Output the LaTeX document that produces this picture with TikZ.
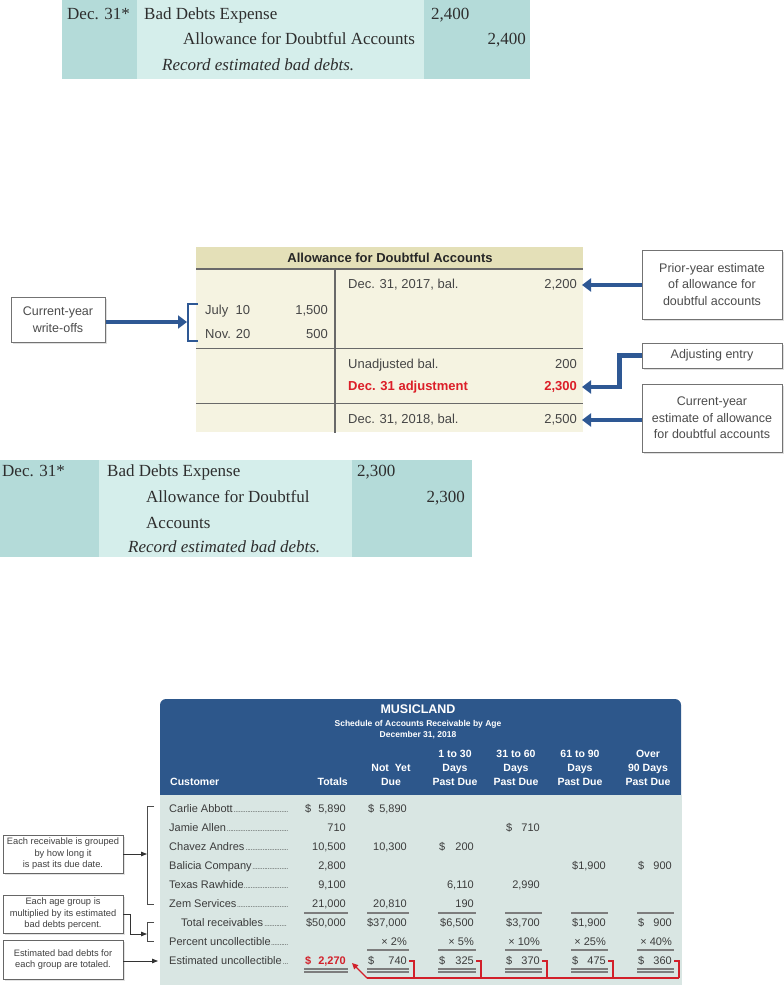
\documentclass[tikz,border=0pt]{standalone}
\usepackage{fontspec}
\setmainfont{Liberation Serif}
\setsansfont{Liberation Sans}
\usetikzlibrary{arrows.meta,shadows}
\definecolor{jdark}{RGB}{180,219,217}
\definecolor{jlight}{RGB}{213,238,235}
\definecolor{theader}{RGB}{228,224,184}
\definecolor{tbody}{RGB}{245,243,225}
\definecolor{tline}{RGB}{105,105,105}
\definecolor{ttext}{RGB}{70,70,70}
\definecolor{tblue}{RGB}{46,88,148}
\definecolor{sblue}{RGB}{45,87,139}
\definecolor{sbody}{RGB}{217,230,227}
\definecolor{sred}{RGB}{210,32,42}
\definecolor{tred}{RGB}{220,30,40}
\definecolor{stext}{RGB}{60,60,60}
\definecolor{sline}{RGB}{125,125,125}
\newcommand\myfs[1]{\fontsize{#1}{#1}\selectfont}
\newcommand\mydots{\leaders\hbox to 1.7pt{\hss{\myfs{7}.}\hss}\hfill}
\begin{document}
\begin{tikzpicture}[x=1pt,y=-1pt,
  jt/.style={anchor=west,inner sep=0pt,font=\myfs{17},text=black!82,text height=11.8pt,text depth=3.6pt},
  jr/.style={jt,anchor=east},
  tt/.style={anchor=west,inner sep=0pt,font=\sffamily\myfs{13},text=ttext,text height=9.5pt,text depth=2.5pt},
  tr/.style={tt,anchor=east},
  note/.style={draw=black!55,line width=1pt,fill=white,align=center,inner sep=2pt,font=\sffamily\fontsize{12.5}{16.5}\selectfont,text=black!70,drop shadow={shadow xshift=2pt,shadow yshift=-2pt,fill=black!25}},
  barrow/.style={line width=4.5pt,draw=tblue,-{Triangle[length=9pt,width=13pt]}},
  bracketb/.style={draw=tblue,line width=1.8pt},
  sn/.style={anchor=east,inner sep=0pt,font=\sffamily\myfs{11},text=stext,text height=8pt,text depth=2pt},
  sd/.style={sn,anchor=west},
  sname/.style={anchor=west,inner sep=0pt,font=\sffamily\myfs{11},text=stext,text height=8pt,text depth=2pt},
  hd/.style={inner sep=0pt,font=\sffamily\bfseries\myfs{10.5},text=white,text height=7.5pt,text depth=2pt},
  uline/.style={draw=sline,line width=1.1pt},
  redl/.style={draw=sred,line width=1.4pt},
  snote/.style={draw=black!60,line width=0.8pt,fill=white,align=center,inner sep=1pt,font=\sffamily\fontsize{9.3}{11.5}\selectfont,text=black!75,drop shadow={shadow xshift=1.5pt,shadow yshift=-1.5pt,fill=black!22}},
  sbr/.style={draw=black!70,line width=0.8pt},
  karrow/.style={draw=black!80,line width=0.8pt,-{Triangle[length=6pt,width=4.5pt]}}
]
\useasboundingbox (0,0) rectangle (784,985);

% ---------- top journal entry ----------
\fill[jdark] (62,0) rectangle (137,79);
\fill[jlight] (137,0) rectangle (424,79);
\fill[jdark] (424,0) rectangle (530,79);
\node[jt] (j1d) at (67,15) {Dec. 31*};
\node[jt] (j1a) at (144,15) {Bad Debts Expense};
\node[jt] (j1n) at (431,15) {2,400};
\node[jt] (j1b) at (183,40) {Allowance for Doubtful Accounts};
\node[jr] (j1m) at (526,40) {2,400};
\node[jt,font=\myfs{17}\itshape] (j1c) at (162,66) {Record estimated bad debts.};

% ---------- T-account ----------
\fill[theader] (196,247) rectangle (583,269);
\fill[tbody] (196,269) rectangle (583,432);
\draw[tline,line width=1.5pt] (196,269) -- (583,269);
\draw[tline,line width=1.2pt] (335,269) -- (335,433);
\draw[tline,line width=1pt] (196,348) -- (583,348);
\draw[tline,line width=1pt] (196,403) -- (583,403);
\node[font=\sffamily\bfseries\myfs{13},text=black!85,inner sep=0pt] (th) at (390,258) {Allowance for Doubtful Accounts};
\node[tt] (t1) at (348,285) {Dec. 31, 2017, bal.};
\node[tr] (v2200) at (577,285) {2,200};
\node[tt] (t2) at (205,311) {July\ \ 10};
\node[tr] (v1500) at (328,311) {1,500};
\node[tt] (t3) at (205,335) {Nov. 20};
\node[tr] (v500) at (328,335) {500};
\node[tt] (t4) at (348,365) {Unadjusted bal.};
\node[tr] (v200) at (577,365) {200};
\node[tt,text=tred,font=\sffamily\bfseries\myfs{13}] (t5) at (348,387) {Dec. 31 adjustment};
\node[tr,text=tred,font=\sffamily\bfseries\myfs{13}] (v2300) at (577,387) {2,300};
\node[tt] (t6) at (348,420) {Dec. 31, 2018, bal.};
\node[tr] (v2500) at (577,420) {2,500};

\node[note,minimum width=94pt,minimum height=45pt] (cw) at (58,319.5) {Current-year\\write-offs};
\draw[bracketb] (198,304) -- (188,304) -- (188,341) -- (198,341);
\coordinate (brk) at (187,322);
\draw[barrow] (cw.east |- brk) -- (brk);

\node[note,minimum width=140pt,minimum height=69pt] (pe) at (712,284.5) {Prior-year estimate\\of allowance for\\doubtful accounts};
\node[note,minimum width=140pt,minimum height=25pt] (ae) at (712,355.5) {Adjusting entry};
\node[note,minimum width=140pt,minimum height=68pt] (ce) at (712,418) {Current-year\\estimate of allowance\\for doubtful accounts};
\draw[barrow] (pe.west |- v2200) -- ([xshift=5pt]v2200.east);
\draw[barrow] (ae.west) -- ++(-22,0) |- ([xshift=5pt]v2300.east);
\draw[barrow] (ce.west |- v2500) -- ([xshift=5pt]v2500.east);

% ---------- second journal entry ----------
\fill[jdark] (0,460) rectangle (99,557);
\fill[jlight] (99,460) rectangle (352,557);
\fill[jdark] (352,460) rectangle (472,557);
\node[jt] (j2d) at (2,472) {Dec. 31*};
\node[jt] (j2a) at (107,472) {Bad Debts Expense};
\node[jt] (j2n) at (357,472) {2,300};
\node[jt] (j2b) at (146,498) {Allowance for Doubtful};
\node[jr] (j2m) at (465,498) {2,300};
\node[jt] (j2e) at (146,524) {Accounts};
\node[jt,font=\myfs{17}\itshape] (j2c) at (128,548) {Record estimated bad debts.};

% ---------- aging schedule ----------
\fill[sblue,rounded corners=6pt] (160,699) rectangle (681,812);
\fill[sbody] (160,795) rectangle (682,985);
\node[hd,font=\sffamily\bfseries\myfs{12.5}] (sh1) at (418,711) {MUSICLAND};
\node[hd,font=\sffamily\bfseries\myfs{8.5}] (sh2) at (418,724) {Schedule of Accounts Receivable by Age};
\node[hd,font=\sffamily\bfseries\myfs{8.5}] (sh3) at (418,735) {December 31, 2018};
\node[hd,anchor=west] (hc) at (170,783) {Customer};
\node[hd,anchor=east] (htot) at (348,783) {Totals};
\node[hd] (hn1) at (391,769) {Not\ \ Yet};
\node[hd] (hn2) at (391,783) {Due};
\node[hd] (ha1) at (455,755) {1 to 30};
\node[hd] (ha2) at (455,769) {Days};
\node[hd] (ha3) at (455,783) {Past Due};
\node[hd] (hb1) at (516,755) {31 to 60};
\node[hd] (hb2) at (516,769) {Days};
\node[hd] (hb3) at (516,783) {Past Due};
\node[hd] (hcc1) at (580,755) {61 to 90};
\node[hd] (hcc2) at (580,769) {Days};
\node[hd] (hcc3) at (580,783) {Past Due};
\node[hd] (hd1) at (648,755) {Over};
\node[hd] (hd2) at (648,769) {90 Days};
\node[hd] (hd3) at (648,783) {Past Due};

% customer names
\node[sname] (n1) at (169,809) {\makebox[119pt][l]{Carlie Abbott\mydots}};
\node[sname] (n2) at (169,828) {\makebox[119pt][l]{Jamie Allen\mydots}};
\node[sname] (n3) at (169,847) {\makebox[119pt][l]{Chavez Andres\mydots}};
\node[sname] (n4) at (169,866) {\makebox[119pt][l]{Balicia Company\mydots}};
\node[sname] (n5) at (169,885) {\makebox[119pt][l]{Texas Rawhide\mydots}};
\node[sname] (n6) at (169,904) {\makebox[119pt][l]{Zem Services\mydots}};
\node[sname] (n7) at (181,923) {\makebox[107pt][l]{Total receivables\mydots}};
\node[sname] (n8) at (169,942) {\makebox[119pt][l]{Percent uncollectible\mydots}};
\node[sname] (n9) at (169,961) {\makebox[119pt][l]{Estimated uncollectible\mydots}};

% row 1
\node[sd] at (305,809) {\$}; \node[sn] at (346,809) {5,890};
\node[sd] at (368,809) {\$}; \node[sn] at (407,809) {5,890};
% row 2
\node[sn] at (346,828) {710};
\node[sd] at (506,828) {\$}; \node[sn] at (540,828) {710};
% row 3
\node[sn] at (346,847) {10,500};
\node[sn] at (407,847) {10,300};
\node[sd] at (439,847) {\$}; \node[sn] at (474,847) {200};
% row 4
\node[sn] at (346,866) {2,800};
\node[sn] at (606,866) {\$1,900};
\node[sd] at (638,866) {\$}; \node[sn] at (672,866) {900};
% row 5
\node[sn] at (346,885) {9,100};
\node[sn] at (474,885) {6,110};
\node[sn] at (540,885) {2,990};
% row 6
\node[sn] at (346,904) {21,000};
\node[sn] at (407,904) {20,810};
\node[sn] at (474,904) {190};
% totals
\node[sn] at (346,923) {\$50,000};
\node[sn] at (407,923) {\$37,000};
\node[sn] at (474,923) {\$6,500};
\node[sn] at (540,923) {\$3,700};
\node[sn] at (606,923) {\$1,900};
\node[sd] at (638,923) {\$}; \node[sn] at (672,923) {900};
% percents
\node[sn] at (407,942) {× 2\%};
\node[sn] at (474,942) {× 5\%};
\node[sn] at (540,942) {× 10\%};
\node[sn] at (606,942) {× 25\%};
\node[sn] at (672,942) {× 40\%};
% estimated
\node[sd,text=sred,font=\sffamily\bfseries\myfs{11}] at (305,961) {\$};
\node[sn,text=sred,font=\sffamily\bfseries\myfs{11}] (et) at (346,961) {2,270};
\node[sd] at (368,961) {\$}; \node[sn] (e2) at (407,961) {740};
\node[sd] at (439,961) {\$}; \node[sn] (e3) at (474,961) {325};
\node[sd] at (506,961) {\$}; \node[sn] (e4) at (540,961) {370};
\node[sd] at (572,961) {\$}; \node[sn] (e5) at (606,961) {475};
\node[sd] at (638,961) {\$}; \node[sn] (e6) at (672,961) {360};

% rules
\foreach \l/\r in {304/348,367/409,438/476,505/542,571/608,637/674}{
  \draw[uline] (\l,913) -- (\r,913);
  \draw[uline] (\l,969) -- (\r,969);
  \draw[uline] (\l,972) -- (\r,972);
}
\foreach \l/\r in {367/409,438/476,505/542,571/608,637/674}{
  \draw[uline] (\l,950) -- (\r,950);
}

% red totals connector
\coordinate (rb) at (367,978);
\foreach \e in {e2,e3,e4,e5,e6}{
  \draw[redl] ([xshift=2pt]\e.east) -- ++(5,0) -- ++(0,17);
}
\draw[redl] (rb) -- ([xshift=7pt]e6.east |- rb);
\draw[redl,-{Triangle[length=6pt,width=5.5pt]}] (rb) -- ([xshift=6pt,yshift=-2pt]et.east);

% left notes
\node[snote,minimum width=120pt,minimum height=38pt] (s1) at (63,854) {Each receivable is grouped\\by how long it\\is past its due date.};
\node[snote,minimum width=120pt,minimum height=38pt] (s2) at (63,914) {Each age group is\\multiplied by its estimated\\bad debts percent.};
\node[snote,minimum width=120pt,minimum height=39pt] (s3) at (63,959.5) {Estimated bad debts for\\each group are totaled.};
\draw[sbr] (154,806) -- (147,806) -- (147,904) -- (154,904);
\draw[sbr] (154,922) -- (147,922) -- (147,941) -- (154,941);
\coordinate (b1) at (147,854);
\coordinate (b2) at (147,934);
\coordinate (b3) at (158,961);
\draw[karrow] (s1.east |- b1) -- (b1);
\draw[karrow] (s2.east) -- ++(7,0) |- (b2);
\draw[karrow] (s3.east |- b3) -- (b3);
\end{tikzpicture}
\end{document}
